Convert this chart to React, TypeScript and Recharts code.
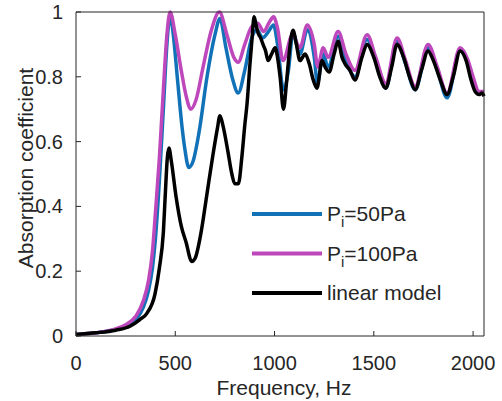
import { LineChart, Line, XAxis, YAxis, Legend } from 'recharts';

const FONT = '"Liberation Sans", Arial, Helvetica, sans-serif';
const INK = '#262626';

// Pi = 50 Pa
const p50Freq = [0, 100, 200, 250, 300, 340, 365, 385, 400, 420, 440, 458, 474, 490, 510, 535, 550, 568, 590, 620, 660, 700, 725, 755, 790, 817, 850, 885, 912, 940, 970, 995, 1015, 1045, 1070, 1093, 1128, 1165, 1200, 1216, 1245, 1270, 1320, 1360, 1405, 1466, 1510, 1560, 1617, 1660, 1708, 1773, 1820, 1869, 1935, 1975, 2000, 2030, 2055];
const p50Abs = [0.005, 0.01, 0.02, 0.03, 0.05, 0.09, 0.14, 0.21, 0.3, 0.48, 0.7, 0.9, 0.99, 0.93, 0.8, 0.64, 0.57, 0.52, 0.54, 0.63, 0.8, 0.93, 0.98, 0.89, 0.79, 0.75, 0.82, 0.92, 0.945, 0.92, 0.94, 0.96, 0.9, 0.76, 0.82, 0.935, 0.87, 0.945, 0.86, 0.78, 0.87, 0.83, 0.925, 0.85, 0.8, 0.915, 0.85, 0.765, 0.91, 0.84, 0.76, 0.89, 0.82, 0.735, 0.885, 0.84, 0.79, 0.75, 0.75];

// Pi = 100 Pa
const p100Freq = [0, 100, 200, 250, 300, 340, 365, 385, 400, 420, 440, 458, 474, 500, 530, 555, 578, 605, 640, 680, 722, 760, 795, 817, 850, 885, 915, 945, 975, 995, 1015, 1043, 1090, 1128, 1165, 1200, 1218, 1245, 1270, 1320, 1360, 1405, 1466, 1510, 1560, 1617, 1660, 1708, 1773, 1820, 1869, 1935, 1975, 2000, 2030, 2055];
const p100Abs = [0.005, 0.01, 0.022, 0.035, 0.06, 0.11, 0.17, 0.26, 0.38, 0.55, 0.76, 0.93, 1.0, 0.93, 0.82, 0.74, 0.7, 0.73, 0.83, 0.94, 1.0, 0.93, 0.86, 0.845, 0.9, 0.955, 0.965, 0.94, 0.97, 0.985, 0.95, 0.85, 0.93, 0.89, 0.96, 0.9, 0.83, 0.89, 0.86, 0.94, 0.87, 0.82, 0.93, 0.86, 0.78, 0.92, 0.85, 0.77, 0.9, 0.83, 0.75, 0.89, 0.85, 0.8, 0.755, 0.755];

// linear model
const linFreq = [0, 100, 200, 272, 320, 357, 398, 420, 440, 450, 460, 468, 480, 504, 530, 554, 583, 600, 630, 660, 690, 712, 725, 740, 765, 785, 800, 818, 835, 850, 862, 875, 887, 897, 907, 917, 930, 942, 955, 967, 985, 1003, 1015, 1028, 1045, 1060, 1075, 1093, 1110, 1128, 1154, 1175, 1195, 1214, 1239, 1255, 1275, 1300, 1320, 1340, 1355, 1380, 1405, 1440, 1466, 1500, 1530, 1560, 1590, 1617, 1650, 1680, 1708, 1740, 1773, 1800, 1835, 1869, 1900, 1935, 1965, 1990, 2010, 2030, 2045, 2055];
const linAbs = [0.005, 0.01, 0.018, 0.03, 0.05, 0.07, 0.13, 0.21, 0.32, 0.44, 0.55, 0.58, 0.54, 0.43, 0.34, 0.29, 0.23, 0.24, 0.32, 0.44, 0.56, 0.64, 0.68, 0.65, 0.57, 0.5, 0.47, 0.47, 0.55, 0.65, 0.72, 0.83, 0.92, 0.985, 0.96, 0.935, 0.92, 0.9, 0.88, 0.85, 0.87, 0.89, 0.86, 0.8, 0.7, 0.78, 0.88, 0.944, 0.9, 0.85, 0.87, 0.84, 0.79, 0.765, 0.85, 0.83, 0.815, 0.87, 0.91, 0.86, 0.84, 0.82, 0.79, 0.86, 0.9, 0.86, 0.8, 0.765, 0.83, 0.9, 0.86, 0.8, 0.76, 0.82, 0.88, 0.85, 0.79, 0.745, 0.8, 0.88, 0.85, 0.79, 0.755, 0.745, 0.75, 0.74];

const xTicks = [0, 500, 1000, 1500, 2000];
const yTicks = [0, 0.2, 0.4, 0.6, 0.8, 1];

const toRows = (fs: number[], vs: number[]) => fs.map((f, i) => ({ f, v: vs[i] }));

const series = [
  { key: 'p50', sub: '=50Pa', color: '#1172B8', data: toRows(p50Freq, p50Abs) },
  { key: 'p100', sub: '=100Pa', color: '#BD47BB', data: toRows(p100Freq, p100Abs) },
  { key: 'lin', sub: '', color: '#000000', data: toRows(linFreq, linAbs) },
];

const BottomTick = ({ x, y, payload }: any) => (
  <g>
    <line x1={x} y1={y} x2={x} y2={y - 5} stroke={INK} />
    <text x={x} y={y + 34} textAnchor="middle" fontSize={20} fill={INK} fontFamily={FONT}>
      {payload.value}
    </text>
  </g>
);
const TopTick = ({ x, y }: any) => <line x1={x} y1={y} x2={x} y2={y + 5} stroke={INK} />;
const LeftTick = ({ x, y, payload }: any) => (
  <g>
    <line x1={x} y1={y} x2={x + 5} y2={y} stroke={INK} />
    <text x={x - 13} y={y + 7} textAnchor="end" fontSize={20} fill={INK} fontFamily={FONT}>
      {payload.value}
    </text>
  </g>
);
const RightTick = ({ x, y }: any) => <line x1={x} y1={y} x2={x - 5} y2={y} stroke={INK} />;

const YLabel = () => (
  <text x={33} y={168} transform="rotate(-90 33 168)" textAnchor="middle" fontSize={21} fill={INK} fontFamily={FONT}>
    Absorption coefficient
  </text>
);

const LegendBox = () => (
  <svg width={220} height={115} style={{ overflow: 'visible' }}>
    {series.map((s, i) => {
      const cy = 19 + i * 39.5;
      return (
        <g key={s.key}>
          <line x1={0} y1={cy} x2={70} y2={cy} stroke={s.color} strokeWidth={4} />
          <text x={75} y={cy + 7} fontSize={21} fill={INK} fontFamily={FONT}>
            {s.key === 'lin' ? (
              'linear model'
            ) : (
              <>
                P<tspan dy={6} fontSize={15}>i</tspan>
                <tspan dy={-6}>{s.sub}</tspan>
              </>
            )}
          </text>
        </g>
      );
    })}
  </svg>
);

export default function App() {
  return (
    <div style={{ position: 'absolute', left: 0, top: 0, width: 502, height: 401, background: '#fff' }}>
      <LineChart width={502} height={401} margin={{ top: 0, right: 0, left: 0, bottom: 0 }}>
        <XAxis
          xAxisId="b"
          dataKey="f"
          type="number"
          domain={[0, 2055]}
          ticks={xTicks}
          height={65}
          tickSize={0}
          tickMargin={0}
          tickLine={false}
          tick={<BottomTick />}
          axisLine={{ stroke: INK }}
          allowDuplicatedCategory={false}
          label={{ value: 'Frequency, Hz', position: 'insideBottom', offset: 6, dx: 4, fontSize: 21, fill: INK, fontFamily: FONT }}
        />
        <XAxis
          xAxisId="t"
          orientation="top"
          dataKey="f"
          type="number"
          domain={[0, 2055]}
          ticks={xTicks}
          height={12}
          tickSize={0}
          tickMargin={0}
          tickLine={false}
          tick={<TopTick />}
          axisLine={{ stroke: INK }}
        />
        <YAxis
          yAxisId="l"
          type="number"
          domain={[0, 1]}
          ticks={yTicks}
          width={76}
          tickSize={0}
          tickMargin={0}
          tickLine={false}
          tick={<LeftTick />}
          axisLine={{ stroke: INK }}
          label={<YLabel />}
        />
        <YAxis
          yAxisId="r"
          orientation="right"
          type="number"
          domain={[0, 1]}
          ticks={yTicks}
          width={18}
          tickSize={0}
          tickMargin={0}
          tickLine={false}
          tick={<RightTick />}
          axisLine={{ stroke: INK }}
        />
        <Legend
          layout="horizontal"
          verticalAlign="middle"
          align="center"
          content={<LegendBox />}
          wrapperStyle={{ left: 252, top: 195, width: 220, height: 115 }}
        />
        {series.map((s) => (
          <Line
            key={s.key}
            xAxisId="b"
            yAxisId="l"
            data={s.data}
            dataKey="v"
            type="monotone"
            stroke={s.color}
            strokeWidth={3.5}
            dot={false}
            isAnimationActive={false}
          />
        ))}
      </LineChart>
    </div>
  );
}
